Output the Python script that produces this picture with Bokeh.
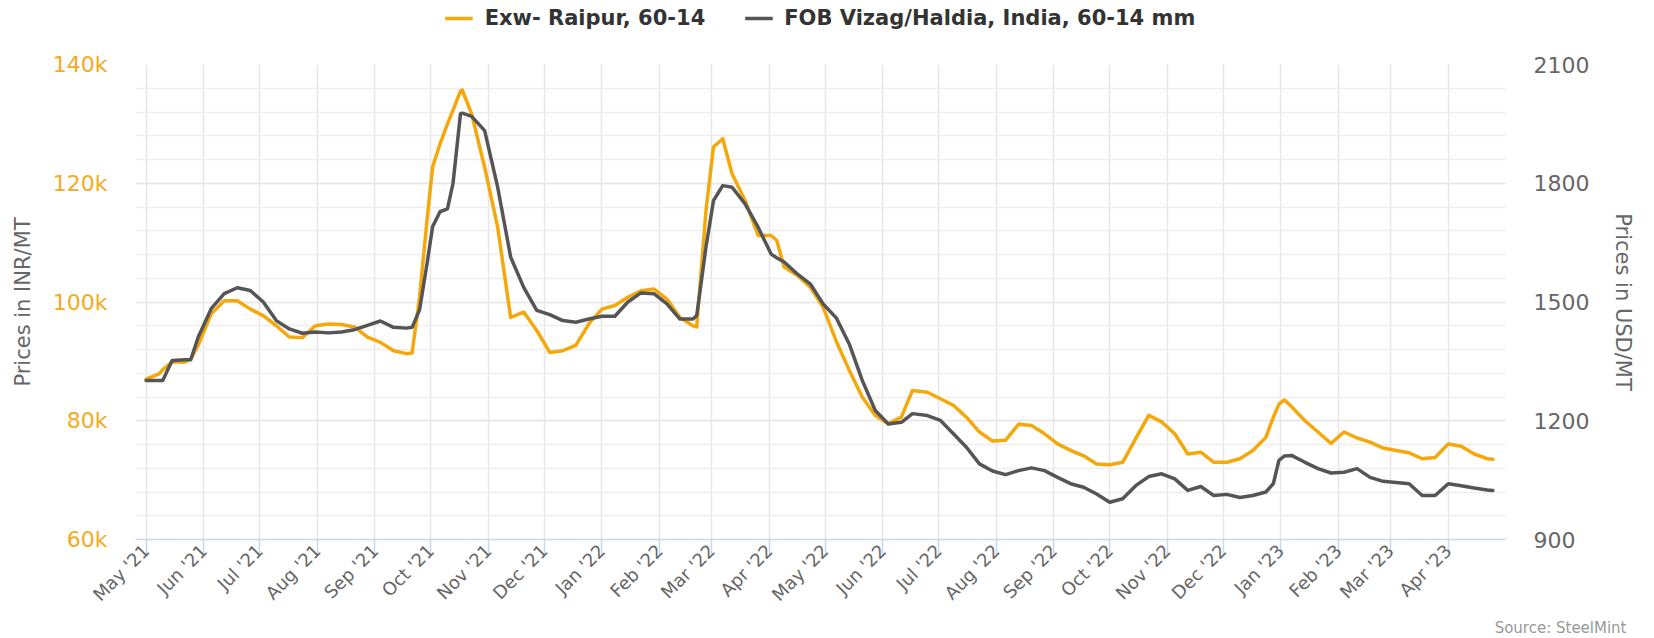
import numpy as np
import pandas as pd
from bokeh.plotting import figure
from bokeh.layouts import column
from bokeh.models import (Range1d, LinearAxis, FixedTicker, DatetimeTickFormatter,
                          Legend, LegendItem, Title)
from bokeh.embed import file_html
from bokeh.resources import INLINE

# ---------------- data ----------------
start_date = "2021-05-01"
day_offsets = [
    0, 7, 9, 14, 21, 24, 28, 35, 42, 49,
    56, 63, 70, 77, 84, 91, 98, 105, 112, 119,
    126, 133, 140, 143, 147, 151, 154, 158, 162, 165,
    169, 170, 175, 182, 189, 196, 203, 210, 217, 224,
    231, 238, 245, 252, 259, 266, 273, 280, 287, 294,
    296, 301, 305, 310, 315, 322, 329, 336, 339, 343,
    350, 357, 364, 371, 378, 385, 392, 399, 406, 412,
    420, 427, 434, 441, 448, 455, 462, 469, 476, 483,
    490, 497, 504, 511, 518, 525, 532, 539, 546, 553,
    560, 567, 574, 581, 588, 595, 602, 606, 609, 612,
    616, 623, 630, 637, 644, 651, 658, 665, 672, 679,
    686, 693, 700, 707, 714, 721, 724,
]
exw_raipur_inr = [
    87000, 87900, 88600, 89900, 89900, 90400, 92700, 98000, 100200, 100200,
    98800, 97700, 96000, 94100, 94000, 96000, 96300, 96200, 95800, 94100,
    93200, 91800, 91300, 91400, 100800, 113700, 122700, 126600, 130000, 132300,
    135500, 135700, 131700, 122700, 112600, 97400, 98300, 95200, 91500, 91800,
    92700, 96300, 98800, 99400, 100800, 101900, 102200, 100500, 97400, 96000,
    95800, 115400, 126100, 127500, 121600, 117100, 111200, 111200, 110400, 105900,
    104500, 102500, 99100, 93400, 88500, 84000, 80900, 79500, 80600, 85100,
    84800, 83700, 82600, 80600, 78100, 76600, 76700, 79400, 79200, 77800,
    76100, 75000, 74100, 72700, 72600, 73000, 77000, 80900, 79800, 77800,
    74400, 74700, 73000, 73000, 73600, 75000, 77200, 80600, 82800, 83500,
    82300, 80000, 78100, 76200, 78100, 77100, 76400, 75400, 75000, 74600,
    73600, 73800, 76100, 75700, 74400, 73600, 73500,
]
fob_vizag_usd = [
    1302, 1302, 1302, 1352, 1354, 1354, 1411, 1483, 1521, 1536,
    1529, 1500, 1453, 1432, 1421, 1424, 1422, 1424, 1430, 1441,
    1452, 1436, 1434, 1436, 1480, 1596, 1690, 1728, 1735, 1800,
    1975, 1977, 1969, 1933, 1790, 1613, 1537, 1479, 1468, 1453,
    1449, 1457, 1464, 1464, 1500, 1523, 1521, 1495, 1457, 1457,
    1466, 1639, 1756, 1794, 1790, 1748, 1689, 1621, 1612, 1601,
    1571, 1546, 1495, 1460, 1394, 1302, 1226, 1192, 1196, 1218,
    1213, 1201, 1167, 1133, 1091, 1073, 1064, 1074, 1081, 1074,
    1057, 1041, 1032, 1015, 994, 1003, 1036, 1059, 1066, 1053,
    1024, 1034, 1011, 1014, 1006, 1011, 1020, 1041, 1100, 1111,
    1112, 1095, 1079, 1068, 1070, 1079, 1057, 1047, 1044, 1041,
    1011, 1011, 1041, 1036, 1030, 1025, 1024,
]
series_names = ["Exw- Raipur, 60-14", "FOB Vizag/Haldia, India, 60-14 mm"]
month_ticks = pd.date_range("2021-05-01", "2023-04-01", freq="MS")
inr_ticks = [60000, 80000, 100000, 120000, 140000]
inr_tick_labels = ["60k", "80k", "100k", "120k", "140k"]
inr_minor_step = 4000
usd_ticks = [900, 1200, 1500, 1800, 2100]
source_text = "Source: SteelMint"

# ---------------- styling ----------------
ORANGE = "#F4A80C"
ORANGE_LBL = "#F4AA22"
GREY = "#555555"
FONT = "DejaVu Sans"
LINE_W = 3.5

dates = pd.Timestamp(start_date) + pd.to_timedelta(day_offsets, unit="D")
x_start = pd.Timestamp(start_date) - pd.Timedelta(days=5.7)
x_end = pd.Timestamp(start_date) + pd.Timedelta(days=730.8)

# ---------------- legend strip (own small figure above the chart) ----------------
leg = figure(width=1638, height=36, x_axis_type="datetime",
             x_range=Range1d(x_start, x_end), y_range=Range1d(0, 1),
             output_backend="svg", toolbar_location=None,
             min_border_left=18, min_border_right=0, min_border_top=0, min_border_bottom=0)
leg.outline_line_color = None
leg.axis.visible = False
leg.grid.visible = False
leg.extra_y_ranges = {"usd": Range1d(0, 1)}
# the series drawn here lie outside this strip's ranges, so only their legend swatches show
lr1 = leg.line(dates, exw_raipur_inr, line_color=ORANGE, line_width=LINE_W)
lr2 = leg.line(dates, fob_vizag_usd, line_color=GREY, line_width=LINE_W, y_range_name="usd")
legend = Legend(items=[LegendItem(label=series_names[0], renderers=[lr1]),
                       LegendItem(label=series_names[1], renderers=[lr2])],
                orientation="horizontal", location="center",
                glyph_width=28, glyph_height=22, label_standoff=12, spacing=39,
                padding=5, margin=0, background_fill_alpha=0, border_line_color=None,
                label_text_font=FONT, label_text_font_style="bold",
                label_text_font_size="21px", label_text_color="#333333")
leg.add_layout(legend)

# ---------------- main chart ----------------
p = figure(width=1638, height=602, x_axis_type="datetime",
           x_range=Range1d(x_start, x_end),
           y_range=Range1d(inr_ticks[0], inr_ticks[-1]),
           output_backend="svg", toolbar_location=None,
           min_border_left=135, min_border_right=121,
           min_border_top=28, min_border_bottom=99)
p.outline_line_color = None
p.background_fill_color = "white"
p.extra_y_ranges = {"usd": Range1d(usd_ticks[0], usd_ticks[-1])}

r1 = p.line(dates, exw_raipur_inr, line_color=ORANGE, line_width=LINE_W,
            line_join="round", line_cap="round")
r2 = p.line(dates, fob_vizag_usd, line_color=GREY, line_width=LINE_W,
            line_join="round", line_cap="round", y_range_name="usd")

# x axis
xa = p.xaxis[0]
xa.ticker = FixedTicker(ticks=[t.timestamp() * 1000 for t in month_ticks])
fmt = "%b '%y"
xa.formatter = DatetimeTickFormatter(
    microseconds=fmt, milliseconds=fmt, seconds=fmt, minsec=fmt, minutes=fmt,
    hourmin=fmt, hours=fmt, days=fmt, months=fmt, years=fmt)
xa.major_label_orientation = np.pi / 4
xa.axis_line_color = "#ccd6eb"
xa.axis_line_width = 1.5
xa.major_tick_line_color = "#ccd6eb"
xa.major_tick_line_width = 1.5
xa.major_tick_out = 16
xa.major_tick_in = 0
xa.minor_tick_line_color = None
xa.major_label_text_color = "#666666"
xa.major_label_text_font = FONT
xa.major_label_text_font_size = "18px"
xa.major_label_standoff = -8

# left y axis
ya = p.yaxis[0]
ya.ticker = FixedTicker(ticks=inr_ticks,
                        minor_ticks=list(range(inr_ticks[0], inr_ticks[-1] + 1, inr_minor_step)))
ya.major_label_overrides = {t: l for t, l in zip(inr_ticks, inr_tick_labels)}
ya.axis_line_color = None
ya.major_tick_line_color = None
ya.major_tick_out = 0
ya.major_tick_in = 0
ya.minor_tick_line_color = None
ya.minor_tick_out = 0
ya.major_label_text_color = ORANGE_LBL
ya.major_label_text_font = FONT
ya.major_label_text_font_size = "22px"
ya.major_label_standoff = 28
ya.axis_label = "Prices in INR/MT"
ya.axis_label_text_font = FONT
ya.axis_label_text_font_style = "normal"
ya.axis_label_text_font_size = "21px"
ya.axis_label_text_color = "#666666"
ya.axis_label_standoff = 15

# right y axis
ra = LinearAxis(y_range_name="usd", ticker=FixedTicker(ticks=usd_ticks))
ra.axis_line_color = None
ra.major_tick_line_color = None
ra.major_tick_out = 0
ra.major_tick_in = 0
ra.minor_tick_line_color = None
ra.minor_tick_out = 0
ra.major_label_text_color = "#666666"
ra.major_label_text_font = FONT
ra.major_label_text_font_size = "22px"
ra.major_label_standoff = 28
ra.axis_label = "Prices in USD/MT"
ra.axis_label_text_font = FONT
ra.axis_label_text_font_style = "normal"
ra.axis_label_text_font_size = "21px"
ra.axis_label_text_color = "#666666"
ra.axis_label_standoff = 19
p.add_layout(ra, "right")

# grids
p.xgrid.grid_line_color = "#e6e6e6"
p.xgrid.grid_line_width = 1.5
p.ygrid.grid_line_color = "#e6e6e6"
p.ygrid.grid_line_width = 1.5
p.ygrid.minor_grid_line_color = "#eeeeee"
p.ygrid.minor_grid_line_width = 1.5

# source credit, bottom right
src = Title(text=source_text, align="right", offset=-121, standoff=3,
            text_font=FONT, text_font_style="normal", text_font_size="15px",
            text_color="#999999")
p.add_layout(src, "below")

layout = column(leg, p, spacing=0)
open("out.html", "w").write(file_html(layout, INLINE))
